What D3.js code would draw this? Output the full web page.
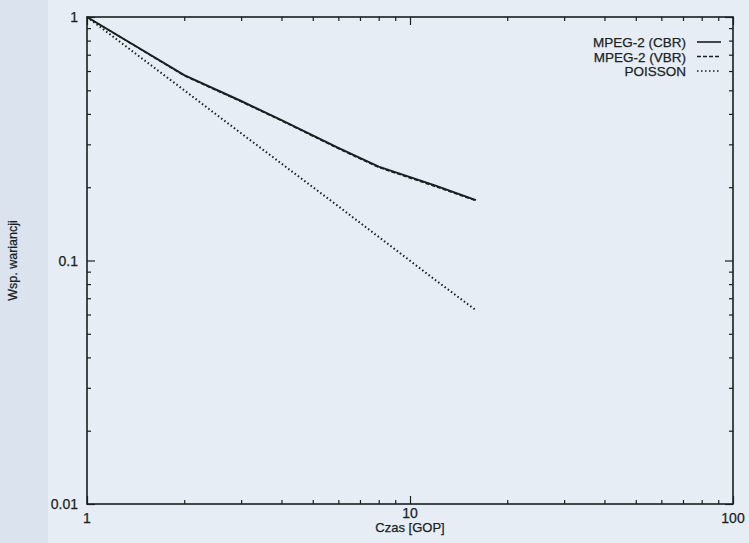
<!DOCTYPE html>
<html>
<head>
<meta charset="utf-8">
<script src="https://cdn.jsdelivr.net/npm/d3@7"></script>
<style>
  body { margin: 0; background: #e8eef4; }
  svg text { font-family: "Liberation Sans", Arial, sans-serif; fill: #1a1f1f; stroke: #1a1f1f; stroke-width: 0.25; }
</style>
</head>
<body>
<div id="chart"></div>
<script>
// data
var gop = [1, 2, 3, 4, 6, 8, 12, 16];
var cbr = [1, 0.577, 0.452, 0.377, 0.290, 0.243, 0.203, 0.177];
var vbr = [1, 0.574, 0.449, 0.375, 0.288, 0.241, 0.201, 0.176];
var poisson = [1, 0.5, 0.333, 0.25, 0.167, 0.125, 0.083, 0.0625];
var seriesNames = ["MPEG-2 (CBR)", "MPEG-2 (VBR)", "POISSON"];
var xLabels = [1, 10, 100];
var yLabels = [1, 0.1, 0.01];

var svgWidth = 749, svgHeight = 543;
var margin = { top: 17, left: 87, right: 16, bottom: 39 };
var width = svgWidth - margin.left - margin.right;
var height = svgHeight - margin.top - margin.bottom;

var svg = d3.select("#chart").append("svg")
    .attr("width", svgWidth)
    .attr("height", svgHeight);

svg.append("rect").attr("width", svgWidth).attr("height", svgHeight).attr("fill", "#e6edf4");
svg.append("rect").attr("width", 48).attr("height", svgHeight).attr("fill", "#dbe4ee");

var g = svg.append("g").attr("transform", `translate(${margin.left}, ${margin.top})`);

var x = d3.scaleLog().domain([1, 100]).range([0, width]);
var y = d3.scaleLog().domain([0.01, 1]).range([height, 0]);

var allX = [], allY = [];
for (var d = 1; d <= 10; d *= 10) for (var k = 1; k <= 9; k++) allX.push(k * d);
allX.push(100);
for (var d2 = 0.01; d2 < 1; d2 *= 10) for (var j = 1; j <= 9; j++) allY.push(+(j * d2).toPrecision(2));
allY.push(1);
var majorX = [1, 10, 100], majorY = [0.01, 0.1, 1];
var minorX = allX.filter(v => majorX.indexOf(v) < 0);
var minorY = allY.filter(v => majorY.indexOf(v) < 0);

function drawTicks(axisFn, scale, values, len, transform) {
    var a = g.append("g").attr("transform", transform)
        .call(axisFn(scale).tickValues(values).tickSize(len).tickFormat(""));
    a.select(".domain").remove();
    a.selectAll("line").attr("stroke", "#1a1f1f").attr("stroke-width", 1.2);
}
// ticks pointing inward on all four sides
drawTicks(d3.axisBottom, x, minorX, -4, `translate(0,${height})`);
drawTicks(d3.axisBottom, x, majorX, -8, `translate(0,${height})`);
drawTicks(d3.axisTop, x, minorX, -4, "translate(0,0)");
drawTicks(d3.axisTop, x, majorX, -8, "translate(0,0)");
drawTicks(d3.axisLeft, y, minorY, -4, "translate(0,0)");
drawTicks(d3.axisLeft, y, majorY, -8, "translate(0,0)");
drawTicks(d3.axisRight, y, minorY, -4, `translate(${width},0)`);
drawTicks(d3.axisRight, y, majorY, -8, `translate(${width},0)`);

g.append("rect").attr("width", width).attr("height", height)
    .attr("fill", "none").attr("stroke", "#1a1f1f").attr("stroke-width", 1.6);

// tick labels
g.selectAll(".xlab").data(xLabels).enter().append("text")
    .attr("x", d => x(d)).attr("y", (d, i) => i == 1 ? height + 14 : height + 19)
    .attr("text-anchor", "middle").attr("font-size", 14).text(d => d);
g.selectAll(".ylab").data(yLabels).enter().append("text")
    .attr("x", -9).attr("y", d => y(d) + 5)
    .attr("text-anchor", "end").attr("font-size", 14).text(d => d);

g.append("text").attr("x", x(10)).attr("y", height + 28)
    .attr("text-anchor", "middle").attr("font-size", 13).text("Czas [GOP]");
svg.append("text").attr("transform", `translate(17, ${margin.top + height * 0.5}) rotate(-90)`)
    .attr("text-anchor", "middle").attr("font-size", 12.5).text("Wsp. wariancji");

var line = d3.line().x(d => x(d[0])).y(d => y(d[1]));
var styles = [
    { dash: null, w: 2 },
    { dash: "4,2", w: 1.4 },
    { dash: "1.5,2.5", w: 2 }
];
[cbr, vbr, poisson].forEach(function (vals, i) {
    g.append("path").datum(gop.map((v, k) => [v, vals[k]]))
        .attr("d", line).attr("fill", "none").attr("stroke", "#1a1f1f")
        .attr("stroke-width", styles[i].w)
        .attr("stroke-dasharray", styles[i].dash);
});

// legend
var legend = g.append("g").attr("transform", `translate(${width - 47}, 25)`);
seriesNames.forEach(function (name, i) {
    legend.append("text").attr("x", 0).attr("y", i * 14.5 + 5)
        .attr("text-anchor", "end").attr("font-size", 13.5).text(name);
    legend.append("line").attr("x1", 11).attr("x2", 35).attr("y1", i * 14.5).attr("y2", i * 14.5)
        .attr("stroke", "#1a1f1f").attr("stroke-width", styles[i].dash ? 1.4 : 1.6)
        .attr("stroke-dasharray", styles[i].dash);
});
</script>
</body>
</html>
